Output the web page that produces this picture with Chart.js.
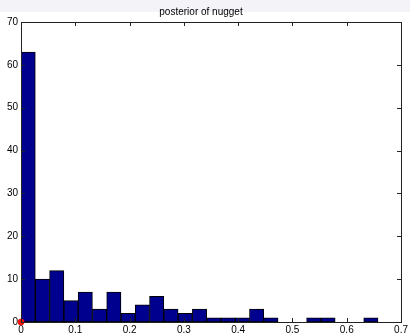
<!DOCTYPE html>
<html>
<head>
<meta charset="utf-8">
<script src="https://cdn.jsdelivr.net/npm/chart.js@4/dist/chart.umd.min.js"></script>
<style>
  html, body { margin: 0; padding: 0; background: #fff; }
  canvas { display: block; }
</style>
</head>
<body>
<canvas id="hist-chart" width="410" height="336"></canvas>
<script>
var canvasElement = document.getElementById("hist-chart");

// histogram of the nugget samples
var chartTitle = "posterior of nugget";
var binCenters = [0.0132, 0.0395, 0.0658, 0.0921, 0.1184, 0.1447, 0.1710, 0.1973, 0.2236,
                  0.2499, 0.2762, 0.3025, 0.3288, 0.3551, 0.3814, 0.4077, 0.4340, 0.4603,
                  0.4866, 0.5129, 0.5392, 0.5655, 0.5918, 0.6181, 0.6444];
var binCounts = [63, 10, 12, 5, 7, 3, 7, 2, 4, 6, 3, 2, 3, 1, 1, 1, 3, 1, 0, 0, 1, 1, 0, 0, 1];
var markerPoint = [{ x: 0, y: 0 }];

var xTicks = [0, 0.1, 0.2, 0.3, 0.4, 0.5, 0.6, 0.7];
var yTicks = [0, 10, 20, 30, 40, 50, 60, 70];

var histData = binCenters.map(function (c, i) { return { x: c, y: binCounts[i] }; });

// matlab style frame: full box with ticks pointing inward
var axesBox = {
    id: "axesBox",
    beforeDraw: function (chart) {
        var ctx = chart.ctx;
        ctx.save();
        ctx.fillStyle = "#ffffff";
        ctx.fillRect(0, 0, chart.width, chart.height);
        ctx.fillStyle = "#f4f4f8";
        ctx.fillRect(0, 0, chart.width, 12);
        ctx.restore();
    },
    afterDatasetsDraw: function (chart) {
        var ctx = chart.ctx;
        var a = chart.chartArea;
        var xs = chart.scales.x, ys = chart.scales.y;
        var len = 4;
        ctx.save();
        ctx.strokeStyle = "#222";
        ctx.lineWidth = 1;
        ctx.beginPath();
        xTicks.forEach(function (v) {
            var px = Math.round(xs.getPixelForValue(v)) + 0.5;
            ctx.moveTo(px, a.bottom); ctx.lineTo(px, a.bottom - len);
            ctx.moveTo(px, a.top); ctx.lineTo(px, a.top + len);
        });
        yTicks.forEach(function (v) {
            var py = Math.round(ys.getPixelForValue(v)) + 0.5;
            ctx.moveTo(a.left, py); ctx.lineTo(a.left + len, py);
            ctx.moveTo(a.right, py); ctx.lineTo(a.right - len, py);
        });
        ctx.stroke();
        ctx.strokeRect(Math.round(a.left) + 0.5, Math.round(a.top) + 0.5,
                       Math.round(a.right - a.left), Math.round(a.bottom - a.top));
        ctx.restore();
    }
};

var tickFont = { family: "'Liberation Sans', Arial, sans-serif", size: 10 };

var config = {
    type: "bar",
    data: {
        datasets: [{
            type: "scatter",
            data: markerPoint,
            backgroundColor: "#ff1010",
            borderColor: "#ff1010",
            pointRadius: 3,
            clip: false,
            order: 0
        }, {
            type: "bar",
            data: histData,
            backgroundColor: "#00008f",
            borderColor: "#000000",
            borderWidth: 1,
            borderSkipped: false,
            categoryPercentage: 1.0,
            barPercentage: 1.0,
            order: 1
        }]
    },
    options: {
        responsive: false,
        animation: false,
        layout: { padding: { left: 0, right: 8, top: 0, bottom: 0 } },
        plugins: {
            legend: { display: false },
            tooltip: { enabled: false },
            title: {
                display: true,
                text: chartTitle,
                color: "#000",
                font: { family: "'Liberation Sans', Arial, sans-serif", size: 10, weight: "normal" },
                padding: { top: 6, bottom: 4 }
            }
        },
        scales: {
            x: {
                type: "linear",
                min: 0,
                max: 0.7,
                offset: false,
                grid: { display: false, drawTicks: false },
                border: { display: false },
                afterBuildTicks: function (scale) {
                    scale.ticks = xTicks.map(function (v) { return { value: v }; });
                },
                afterFit: function (scale) { scale.height = 14; },
                ticks: {
                    color: "#000",
                    font: tickFont,
                    padding: 2,
                    maxRotation: 0,
                    callback: function (v) { return String(v); }
                }
            },
            y: {
                min: 0,
                max: 70,
                grid: { display: false, drawTicks: false },
                border: { display: false },
                afterBuildTicks: function (scale) {
                    scale.ticks = yTicks.map(function (v) { return { value: v }; });
                },
                afterFit: function (scale) { scale.width = 21; },
                ticks: {
                    color: "#000",
                    font: tickFont,
                    padding: 3
                }
            }
        }
    },
    plugins: [axesBox]
};

var histChart = new Chart(canvasElement, config);
</script>
</body>
</html>
